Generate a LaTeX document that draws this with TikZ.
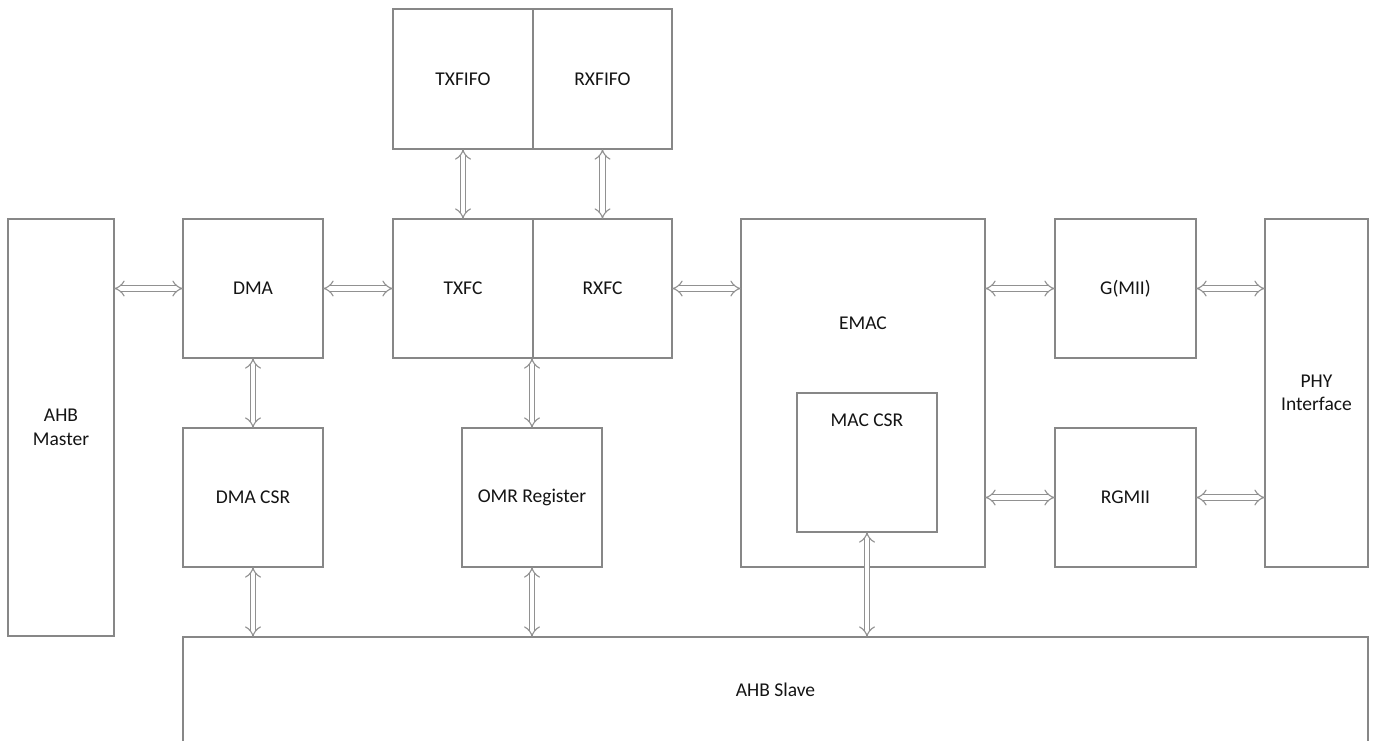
\documentclass[tikz,border=0pt]{standalone}
\usepackage{fontspec}
\setmainfont{Carlito}
\usetikzlibrary{arrows.meta}
\definecolor{boxline}{RGB}{135,135,135}
\definecolor{arrline}{RGB}{145,145,145}
\definecolor{txt}{RGB}{20,20,20}
\begin{document}
\begin{tikzpicture}[x=1pt,y=-1pt,
  blk/.style={draw=boxline, line width=1.4pt, rectangle, inner sep=0pt, outer sep=0pt,
    font=\fontsize{19.5}{23.5}\selectfont, text=txt, align=center},
  lbl/.style={inner sep=0pt, font=\fontsize{19.5}{23.5}\selectfont, text=txt, align=center},
  dbl/.style={draw=arrline, line width=1.1pt, double=white, double distance=4.5pt,
    {Implies[length=6.5pt,width=15pt]}-{Implies[length=6.5pt,width=15pt]}}]
\useasboundingbox (0,0) rectangle (1377,740);
\fill[white] (0,0) rectangle (1377,740);
% blocks
\node[blk, minimum width=106, minimum height=417] (ahbm) at (61,427.5) {AHB\\Master};
\node[blk, minimum width=140, minimum height=139] (dma) at (253,288.5) {DMA};
\node[blk, minimum width=140, minimum height=139] (dmacsr) at (253,497.5) {DMA CSR};
\node[blk, minimum width=140, minimum height=140] (txfifo) at (463,79) {TXFIFO};
\node[blk, minimum width=139, minimum height=140] (rxfifo) at (602.5,79) {RXFIFO};
\node[blk, minimum width=140, minimum height=139] (txfc) at (463,288.5) {TXFC};
\node[blk, minimum width=139, minimum height=139] (rxfc) at (602.5,288.5) {RXFC};
\node[blk, minimum width=140, minimum height=139] (omr) at (532,497.5) {OMR Register};
\node[blk, minimum width=244, minimum height=348] (emac) at (863,393) {};
\node[lbl] (emact) at (863,323) {EMAC};
\node[blk, minimum width=140, minimum height=139] (maccsr) at (867,462.5) {};
\node[lbl] (maccsrt) at (867,420) {MAC CSR};
\node[blk, minimum width=141, minimum height=139] (gmii) at (1125.5,288.5) {G(MII)};
\node[blk, minimum width=141, minimum height=139] (rgmii) at (1125.5,497.5) {RGMII};
\node[blk, minimum width=103, minimum height=348] (phy) at (1316.5,393) {PHY\\Interface};
\node[blk, minimum width=1185, minimum height=106] (slave) at (775.5,690) {AHB Slave};
% connectors
\draw[dbl] (ahbm.east |- dma.west) -- (dma.west);
\draw[dbl] (dma.east) -- (txfc.west);
\draw[dbl] (rxfc.east) -- (emac.west |- rxfc.east);
\draw[dbl] (emac.east |- gmii.west) -- (gmii.west);
\draw[dbl] (gmii.east) -- (phy.west |- gmii.east);
\draw[dbl] (emac.east |- rgmii.west) -- (rgmii.west);
\draw[dbl] (rgmii.east) -- (phy.west |- rgmii.east);
\draw[dbl] (txfifo.south) -- (txfc.north);
\draw[dbl] (rxfifo.south) -- (rxfc.north);
\draw[dbl] (dma.south) -- (dmacsr.north);
\draw[dbl] (omr.north |- rxfc.south) -- (omr.north);
\draw[dbl] (dmacsr.south) -- (dmacsr.south |- slave.north);
\draw[dbl] (omr.south) -- (omr.south |- slave.north);
\draw[dbl] (maccsr.south) -- (maccsr.south |- slave.north);
\end{tikzpicture}
\end{document}
